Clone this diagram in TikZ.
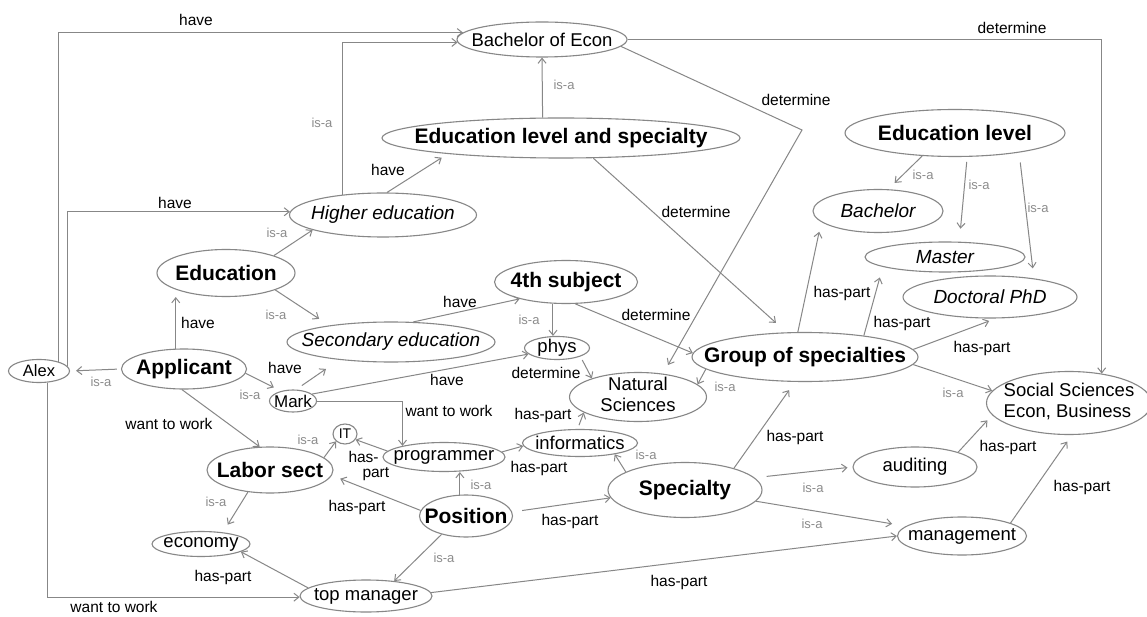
\documentclass[tikz,border=0pt]{standalone}
\usepackage{fontspec}
\setmainfont{Liberation Sans}
\usetikzlibrary{shapes.geometric,arrows.meta}
\definecolor{lg}{RGB}{135,135,135}
\definecolor{ig}{RGB}{140,140,140}
\newcommand\ntxt[1]{\makebox[0pt]{\raisebox{\dimexpr(\depth-\height)/2\relax}[0pt][0pt]{#1}}}
\newcommand\twoc[2]{\begin{tabular}{@{}c@{}}#1\\#2\end{tabular}}
\newcommand\twol[2]{\begin{tabular}{@{}l@{}}#1\\#2\end{tabular}}
\begin{document}
\begin{tikzpicture}[x=1pt,y=-1pt,
  ell/.style={ellipse, draw=lg, line width=1.1pt, inner sep=0pt, text=black},
  sz/.style 2 args={minimum width=#1pt, minimum height=#2pt},
  bn/.style={ell, font=\fontsize{21}{24}\selectfont\bfseries},
  rn/.style={ell, font=\fontsize{18.5}{21}\selectfont},
  itn/.style={ell, font=\fontsize{19}{21}\selectfont\itshape},
  conn/.style={draw=lg, line width=1pt, -{Straight Barb[length=5pt,width=8pt]}},
  lab/.style={font=\fontsize{15.5}{14.5}\selectfont, text=black, inner sep=0pt},
  isa/.style={font=\fontsize{13}{14}\selectfont, text=ig, inner sep=0pt}]
\fill[white] (0,0) rectangle (1147,617);
\useasboundingbox (0,0) rectangle (1147,617);
% nodes
\node[rn, sz={170}{35}] (bach) at (542,39.5) {\ntxt{Bachelor of Econ}};
\node[bn, sz={358}{40}] (els) at (561,138) {\ntxt{Education level and specialty}};
\node[bn, sz={220}{47}] (el) at (955,133) {\ntxt{Education level}};
\node[itn, sz={130}{43}] (bachelor) at (878,211) {\ntxt{Bachelor}};
\node[itn, sz={160}{30}] (master) at (945,257) {\ntxt{Master}};
\node[itn, sz={174}{42}] (phd) at (990,297) {\ntxt{Doctoral PhD}};
\node[itn, sz={187}{44}] (higher) at (383,215) {\ntxt{Higher education}};
\node[bn, sz={138}{47}] (edu) at (226,273) {\ntxt{Education}};
\node[bn, sz={143}{43}] (fourth) at (566,282) {\ntxt{4th subject}};
\node[itn, sz={208}{40}] (second) at (391,342) {\ntxt{Secondary education}};
\node[rn, sz={65}{23}] (phys) at (557,348) {\ntxt{phys}};
\node[bn, sz={226}{49}] (group) at (805,357) {\ntxt{Group of specialties}};
\node[rn, sz={137}{49}] (nat) at (638,397) {\ntxt{\twoc{Natural}{Sciences}}};
\node[rn, sz={165}{63}] (soc) at (1069,403) {\ntxt{\twol{Social Sciences}{Econ, Business}}};
\node[rn, sz={61}{23}, font=\fontsize{16.5}{18}\selectfont] (alex) at (39,371) {\ntxt{Alex}};
\node[bn, sz={125}{40}] (appl) at (184,369) {\ntxt{Applicant}};
\node[rn, sz={47}{22}, font=\fontsize{17}{18}\selectfont] (mark) at (293,401) {\ntxt{Mark}};
\node[rn, sz={24}{20}, font=\fontsize{14}{16}\selectfont] (it) at (345,434) {\ntxt{IT}};
\node[rn, sz={122}{29}] (prog) at (444,457) {\ntxt{programmer}};
\node[rn, sz={115}{27}] (info) at (580,443) {\ntxt{informatics}};
\node[bn, sz={126}{46}] (labor) at (270,470) {\ntxt{Labor sect}};
\node[bn, sz={93}{42}] (pos) at (466,516) {\ntxt{Position}};
\node[bn, sz={154}{55}] (spec) at (685,490) {\ntxt{Specialty}};
\node[rn, sz={124}{40}] (aud) at (915,467) {\ntxt{auditing}};
\node[rn, sz={129}{38}] (mgmt) at (962,536) {\ntxt{management}};
\node[rn, sz={98}{25}] (econ) at (201,544) {\ntxt{economy}};
\node[rn, sz={132}{32}] (top) at (366,596) {\ntxt{top manager}};
\coordinate (turn) at (802,130);
% connectors
\draw[conn] (alex.25) |- (bach.175) node[lab] at (196,20) {have};
\draw[conn] (alex.10) |- (higher.178) node[lab] at (175,203) {have};
\draw[conn] (alex.-54) |- (top.181) node[lab] at (114,607) {want to work};
\draw[conn] (bach.east) -| (soc.42) node[lab] at (1012,28) {determine};
\draw[conn, shorten >=10pt] (bach.-5) -- (turn) -- (nat.43) node[lab] at (796,100) {determine};
\draw[conn] (els.132) -- (bach.south) node[isa] at (564,85) {is-a};
\draw[conn, shorten >=14pt] (els.-32) -- (group.127) node[lab] at (696,212) {determine};
\draw[conn, shorten >=7pt] (higher.80) -- (els.188) node[lab] at (388,170) {have};
\draw[conn] (higher.153) |- (bach.182) node[isa] at (322,123) {is-a};
\draw[conn] (edu.20) -- (higher.192) node[isa] at (277,233) {is-a};
\draw[conn, shorten >=12pt] (edu.-19) -- (second.165) node[isa] at (276,315) {is-a};
\draw[conn] (appl.112) -- (appl.112 |- edu.south) node[lab] at (198,323) {have};
\draw[conn, shorten <=4pt, shorten >=6pt] (appl.west) -- (alex.east) node[isa] at (101,382) {is-a};
\draw[conn, shorten >=8pt] (appl.-4) -- (mark.140) node[isa] at (250,395) {is-a};
\draw[conn, shorten <=7pt, shorten >=16pt] (mark.75) -- (second.199) node[lab] at (285,368) {have};
\draw[conn] (mark.20) -- (phys.192) node[lab] at (447,380) {have};
\draw[conn] (mark.east) -| (prog.165) node[lab] at (449,411) {want to work};
\draw[conn] (second.42) -- (fourth.200) node[lab] at (460,302) {have};
\draw[conn] (fourth.-121) -- (fourth.-121 |- phys.north) node[isa] at (529,320) {is-a};
\draw[conn] (fourth.-67) -- (group.178) node[lab] at (656,315) {determine};
\draw[conn, shorten <=4pt] (phys.-20) -- (nat.158) node[lab] at (546,373) {determine};
\draw[conn] (group.187) -- (nat.12) node[isa] at (725,387) {is-a};
\draw[conn, shorten >=10pt] (group.106) -- (bachelor.191) node[lab] at (842,293) {has-part};
\draw[conn, shorten >=11pt] (group.20) -- (master.189) node[lab] at (902,323) {has-part};
\draw[conn, shorten >=7pt] (group.4) -- (phd.-75) node[lab] at (982,348) {has-part};
\draw[conn] (group.-4) -- (soc.171) node[isa] at (953,393) {is-a};
\draw[conn, shorten >=9pt] (el.-145) -- (bachelor.65) node[isa] at (923,175) {is-a};
\draw[conn, shorten <=5pt, shorten >=13pt] (el.-63) -- (master.47) node[isa] at (979,185) {is-a};
\draw[conn, shorten <=10pt, shorten >=10pt] (el.-17) -- (phd.23) node[isa] at (1038,208) {is-a};
\draw[conn] (appl.-96) -- (labor.114) node[lab] at (169,424) {want to work};
\draw[conn] (labor.13) -- (it.-141) node[isa] at (308,440) {is-a};
\draw[conn] (prog.174) -- (it.-28) node[lab, align=left, anchor=west] at (348,466) {has-\\\hspace*{14pt}part};
\draw[conn, shorten >=9pt] (pos.173) -- (labor.-5) node[lab] at (357,507) {has-part};
\draw[conn] (pos.106) -- (pos.106 |- prog.south) node[isa] at (481,485) {is-a};
\draw[conn] (prog.5) -- (info.183) node[lab] at (539,468) {has-part};
\draw[conn, shorten <=4pt] (info.100) -- (nat.196) node[lab] at (543,415) {has-part};
\draw[conn] (spec.163) -- (info.-18) node[isa] at (646,455) {is-a};
\draw[conn, shorten <=10pt] (pos.5) -- (spec.186) node[lab] at (570,521) {has-part};
\draw[conn, shorten >=10pt] (spec.24) -- (group.-112) node[lab] at (795,437) {has-part};
\draw[conn, shorten <=12pt, shorten >=5pt] (spec.10) -- (aud.west) node[isa] at (813,488) {is-a};
\draw[conn, shorten >=14pt] (spec.-9) -- (mgmt.170) node[isa] at (812,524) {is-a};
\draw[conn, shorten >=7pt] (aud.19) -- (soc.189) node[lab] at (1008,447) {has-part};
\draw[conn, shorten >=8pt] (mgmt.15) -- (soc.-85) node[lab] at (1082,487) {has-part};
\draw[conn] (pos.-143) -- (top.28) node[isa] at (444,558) {is-a};
\draw[conn] (top.172) -- (econ.-11) node[lab] at (223,577) {has-part};
\draw[conn] (top.3) -- (mgmt.west) node[lab] at (679,582) {has-part};
\draw[conn, shorten >=9pt] (labor.-135) -- (econ.28) node[isa] at (216,502) {is-a};
\end{tikzpicture}
\end{document}
